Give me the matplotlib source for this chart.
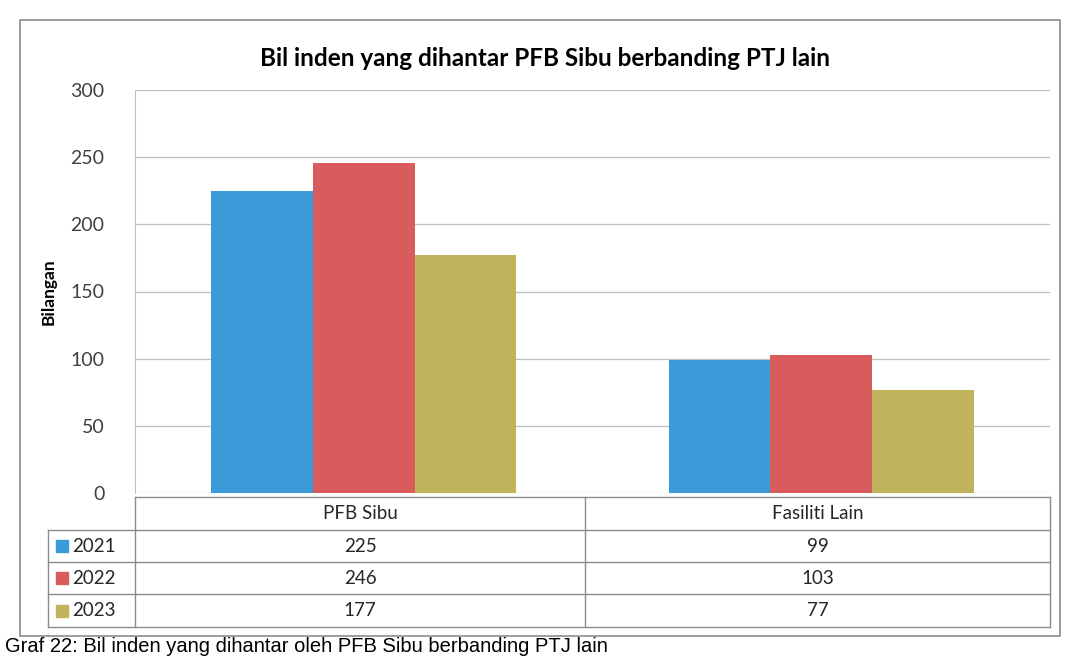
import matplotlib
matplotlib.use('Agg')
from matplotlib import pyplot as plt
from matplotlib.lines import Line2D
from matplotlib.patches import Rectangle
import numpy as np

# data
categories = ['PFB Sibu', 'Fasiliti Lain']
years = ['2021', '2022', '2023']
values_2021 = [225, 99]
values_2022 = [246, 103]
values_2023 = [177, 77]
colors = ['#3a9bd8', '#d95c5c', '#bfb35c']

W, H = 1066, 659
plt.rcParams['font.family'] = ['Lato', 'DejaVu Sans']

fig = plt.figure(figsize=(W / 100, H / 100), dpi=100)

def fx(px):
    return px / W

def fy(py):
    return 1 - py / H

# outer chart frame
fig.add_artist(Rectangle((fx(20), fy(636)), fx(1040), (616) / H, transform=fig.transFigure,
                         fill=False, edgecolor='#8c8c8c', lw=1.2))

ax = fig.add_axes([fx(135), fy(493), fx(1050 - 135), (493 - 90) / H])

series = [values_2021, values_2022, values_2023]
x = np.arange(len(categories))
bw = 0.222
for i, vals in enumerate(series):
    ax.bar(x + (i - 1) * bw, vals, bw, color=colors[i], zorder=3)

ax.set_xlim(-0.5, 1.5)
ax.set_ylim(0, 300)
ax.set_yticks(np.arange(0, 301, 50))
ax.set_xticks([])
ax.grid(axis='y', color='#bfbfbf', lw=0.9, zorder=0)
ax.tick_params(axis='y', length=0, pad=22, labelsize=14, labelcolor='#404040')
for s in ['top', 'right', 'bottom']:
    ax.spines[s].set_visible(False)
ax.spines['left'].set_color('#bfbfbf')
ax.set_ylabel('Bilangan', fontsize=12.5, fontweight='bold', labelpad=10)

fig.text(fx(545), fy(58), 'Bil inden yang dihantar PFB Sibu berbanding PTJ lain',
         ha='center', va='center', fontsize=17.5, fontweight='bold')

# data table below the plot
line_kw = dict(color='#8c8c8c', lw=1, transform=fig.transFigure)
col_x = [135, 585, 1050]
row_y = [497, 530, 562, 594, 627]
label_x0 = 48

for yy in row_y:
    x0 = col_x[0] if yy == row_y[0] else label_x0
    fig.add_artist(Line2D([fx(x0), fx(col_x[-1])], [fy(yy), fy(yy)], **line_kw))
for xx in col_x:
    fig.add_artist(Line2D([fx(xx), fx(xx)], [fy(row_y[0]), fy(row_y[-1])], **line_kw))
fig.add_artist(Line2D([fx(label_x0), fx(label_x0)], [fy(row_y[1]), fy(row_y[-1])], **line_kw))

for j, cat in enumerate(categories):
    cx = (col_x[j] + col_x[j + 1]) / 2
    fig.text(fx(cx), fy((row_y[0] + row_y[1]) / 2), cat, ha='center', va='center',
             fontsize=13.5, color='#262626')
    for i, vals in enumerate(series):
        cy = (row_y[i + 1] + row_y[i + 2]) / 2
        fig.text(fx(cx), fy(cy), str(vals[j]), ha='center', va='center',
                 fontsize=13.5, color='#262626')

for i, yr in enumerate(years):
    cy = (row_y[i + 1] + row_y[i + 2]) / 2
    fig.add_artist(Rectangle((fx(56), fy(cy + 6)), fx(12), 12 / H, transform=fig.transFigure,
                             color=colors[i]))
    fig.text(fx(72), fy(cy), yr, ha='left', va='center', fontsize=13.5, color='#262626')

# caption under the chart
fig.text(fx(5), fy(656), 'Graf 22: Bil inden yang dihantar oleh PFB Sibu berbanding PTJ lain',
         ha='left', va='bottom', fontsize=14.5, family=['Liberation Sans', 'DejaVu Sans'])

fig.savefig('out.png', dpi=100)
